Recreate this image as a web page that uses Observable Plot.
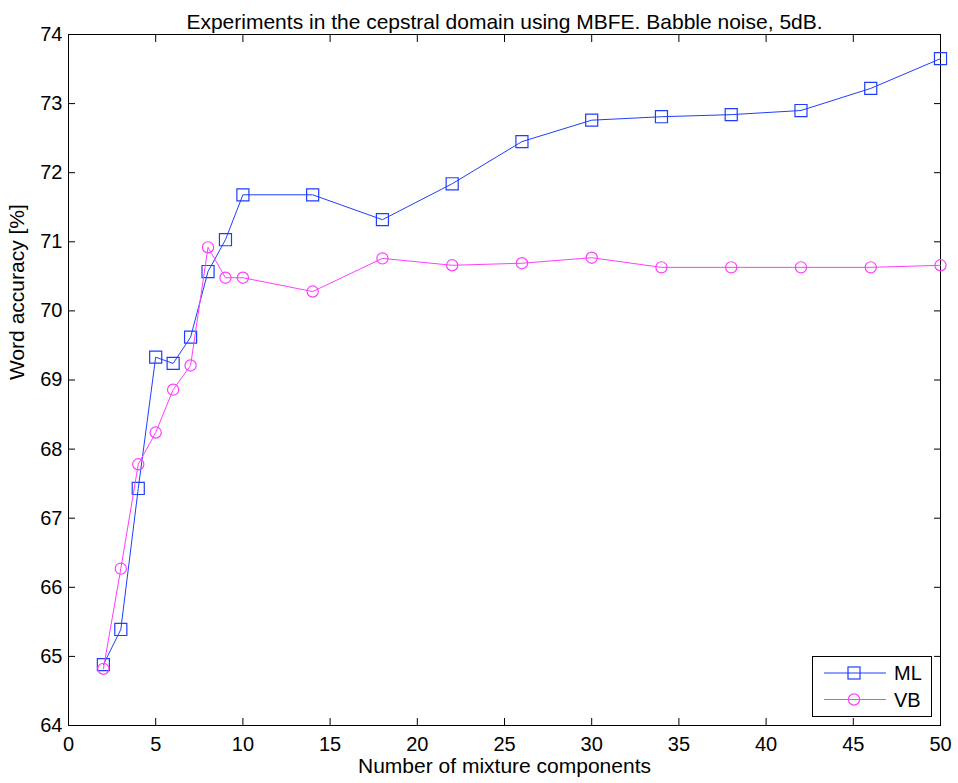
<!DOCTYPE html>
<html>
<head>
<meta charset="utf-8">
<script src="https://cdn.jsdelivr.net/npm/d3@7"></script>
<script src="https://cdn.jsdelivr.net/npm/@observablehq/plot@0.6"></script>
<style>
  body { margin: 0; background: #fff; }
  #wrap { position: relative; width: 958px; height: 783px; font-family: "Liberation Sans", Arial, Helvetica, sans-serif; }
  #legend { position: absolute; left: 812px; top: 656px; width: 120px; height: 61px; border: 1px solid #000; background: #fff; box-sizing: border-box; }
</style>
</head>
<body>
<div id="wrap"></div>
<script>
const title = "Experiments in the cepstral domain using MBFE. Babble noise, 5dB.";
const xLabel = "Number of mixture components";
const yLabel = "Word accuracy [%]";
const seriesNames = ["ML", "VB"];
const components = [2, 3, 4, 5, 6, 7, 8, 9, 10, 14, 18, 22, 26, 30, 34, 38, 42, 46, 50];
const mlValues = [64.88, 65.39, 67.43, 69.33, 69.24, 69.62, 70.57, 71.03, 71.68, 71.68, 71.32, 71.84, 72.45, 72.76, 72.81, 72.84, 72.90, 73.22, 73.65];
const vbValues = [64.82, 66.27, 67.78, 68.24, 68.86, 69.21, 70.92, 70.48, 70.48, 70.28, 70.76, 70.66, 70.69, 70.77, 70.63, 70.63, 70.63, 70.63, 70.66];
const xTicks = [0, 5, 10, 15, 20, 25, 30, 35, 40, 45, 50];
const yTicks = [64, 65, 66, 67, 68, 69, 70, 71, 72, 73, 74];
const colors = ["#1f3dff", "#ff3dff"];
const symbols = ["square", "circle"];

const ml = components.map((x, i) => ({x, y: mlValues[i], s: seriesNames[0]}));
const vb = components.map((x, i) => ({x, y: vbValues[i], s: seriesNames[1]}));

const chart = Plot.plot({
  width: 958,
  height: 783,
  marginTop: 34,
  marginLeft: 68,
  marginRight: 18,
  marginBottom: 58,
  style: {fontFamily: "Liberation Sans, Arial, Helvetica, sans-serif", fontSize: "20px", color: "#000", background: "#fff"},
  x: {domain: [0, 50]},
  y: {domain: [64, 74]},
  marks: [
    Plot.frame({stroke: "#000", strokeWidth: 1}),
    // inward ticks on all four sides
    Plot.axisX(xTicks, {anchor: "bottom", tickSize: -7, text: null, label: null}),
    Plot.axisX(xTicks, {anchor: "top", tickSize: -7, text: null, label: null}),
    Plot.axisY(yTicks, {anchor: "left", tickSize: -7, text: null, label: null}),
    Plot.axisY(yTicks, {anchor: "right", tickSize: -7, text: null, label: null}),
    // tick labels
    Plot.axisX(xTicks, {anchor: "bottom", tickSize: 0, tickPadding: 11, label: null, fontSize: 20, tickFormat: d3.format("d")}),
    Plot.axisY(yTicks, {anchor: "left", tickSize: 0, tickPadding: 6, label: null, fontSize: 20, tickFormat: d3.format("d")}),
    // series
    Plot.line(ml, {x: "x", y: "y", stroke: colors[0], strokeWidth: 1}),
    Plot.dot(ml, {x: "x", y: "y", symbol: symbols[0], r: 6.8, stroke: colors[0], strokeWidth: 1.2, fill: "none"}),
    Plot.line(vb, {x: "x", y: "y", stroke: colors[1], strokeWidth: 1}),
    Plot.dot(vb, {x: "x", y: "y", symbol: symbols[1], r: 5.6, stroke: colors[1], strokeWidth: 1.2, fill: "none"}),
    // title and axis labels
    Plot.text([title], {frameAnchor: "top", dy: -20, text: d => d, fontSize: 21}),
    Plot.text([xLabel], {frameAnchor: "bottom", dy: 47, text: d => d, fontSize: 21}),
    Plot.text([yLabel], {frameAnchor: "left", dx: -51, rotate: -90, text: d => d, fontSize: 21})
  ]
});

const wrap = document.getElementById("wrap");
wrap.appendChild(chart);

// legend
const legend = document.createElement("div");
legend.id = "legend";
const ns = "http://www.w3.org/2000/svg";
const lsvg = document.createElementNS(ns, "svg");
lsvg.setAttribute("width", 118);
lsvg.setAttribute("height", 59);
seriesNames.forEach((name, i) => {
  const cy = 16 + i * 26.5;
  const line = document.createElementNS(ns, "line");
  line.setAttribute("x1", 11); line.setAttribute("x2", 73);
  line.setAttribute("y1", cy); line.setAttribute("y2", cy);
  line.setAttribute("stroke", colors[i]); line.setAttribute("stroke-width", 1);
  lsvg.appendChild(line);
  let m;
  if (symbols[i] === "square") {
    m = document.createElementNS(ns, "rect");
    m.setAttribute("x", 41 - 6); m.setAttribute("y", cy - 6);
    m.setAttribute("width", 12); m.setAttribute("height", 12);
  } else {
    m = document.createElementNS(ns, "circle");
    m.setAttribute("cx", 41); m.setAttribute("cy", cy); m.setAttribute("r", 5.6);
  }
  m.setAttribute("fill", "none"); m.setAttribute("stroke", colors[i]); m.setAttribute("stroke-width", 1.2);
  lsvg.appendChild(m);
  const t = document.createElementNS(ns, "text");
  t.setAttribute("x", 81); t.setAttribute("y", cy);
  t.setAttribute("dy", "0.36em");
  t.setAttribute("font-size", 20);
  t.setAttribute("font-family", "Liberation Sans, Arial, sans-serif");
  t.textContent = name;
  lsvg.appendChild(t);
});
legend.appendChild(lsvg);
wrap.appendChild(legend);
</script>
</body>
</html>
